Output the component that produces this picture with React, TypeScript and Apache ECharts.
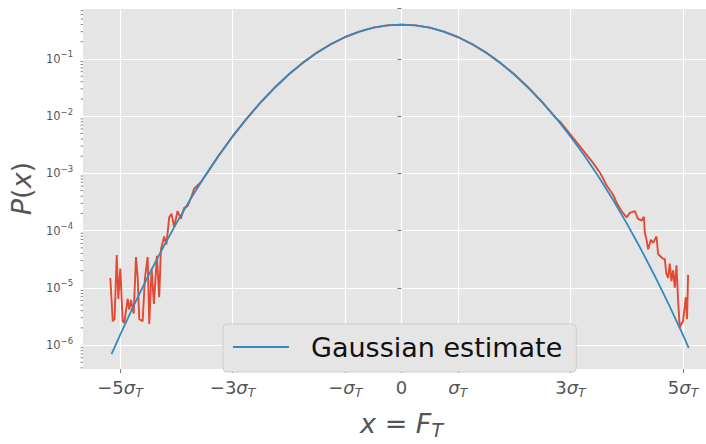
import React, { useEffect, useRef } from 'react';
import * as echarts from 'echarts';

// ---- axis ticks ----
const xTickValues = [-5, -3, -1, 0, 1, 3, 5];
const xTickCoefs = ['−5', '−3', '−', '0', '', '3', '5'];
const yMinorTickValues = [
  4e-7, 5e-7, 6e-7, 7e-7, 8e-7, 9e-7,
  2e-6, 3e-6, 4e-6, 5e-6, 6e-6, 7e-6, 8e-6, 9e-6,
  2e-5, 3e-5, 4e-5, 5e-5, 6e-5, 7e-5, 8e-5, 9e-5,
  2e-4, 3e-4, 4e-4, 5e-4, 6e-4, 7e-4, 8e-4, 9e-4,
  2e-3, 3e-3, 4e-3, 5e-3, 6e-3, 7e-3, 8e-3, 9e-3,
  2e-2, 3e-2, 4e-2, 5e-2, 6e-2, 7e-2, 8e-2, 9e-2,
  0.2, 0.3, 0.4, 0.5, 0.6, 0.7,
];

// ---- Gaussian estimate (x in units of sigma_T, P(x)) ----
const gaussX = [
  -5.15, -5, -4.75, -4.5, -4.25, -4, -3.75, -3.5, -3.25, -3, -2.75, -2.5, -2.25, -2, -1.75, -1.5, -1.25, -1, -0.75, -0.5, -0.25,
  0, 0.25, 0.5, 0.75, 1, 1.25, 1.5, 1.75, 2, 2.25, 2.5, 2.75, 3, 3.25, 3.5, 3.75, 4, 4.25, 4.5, 4.75, 5, 5.1,
];
const gaussP = [
  6.94e-7, 1.487e-6, 5.03e-6, 1.598e-5, 4.77e-5, 1.338e-4, 3.53e-4, 8.73e-4, 2.029e-3, 4.432e-3, 9.094e-3, 1.753e-2, 3.174e-2, 5.399e-2, 8.628e-2, 0.1295, 0.1826, 0.242, 0.3011, 0.3521, 0.3867,
  0.3989, 0.3867, 0.3521, 0.3011, 0.242, 0.1826, 0.1295, 8.628e-2, 5.399e-2, 3.174e-2, 1.753e-2, 9.094e-3, 4.432e-3, 2.029e-3, 8.73e-4, 3.53e-4, 1.338e-4, 4.77e-5, 1.598e-5, 5.03e-6, 1.487e-6, 8.96e-7,
];

// ---- measured distribution (x in sigma_T, log10 P(x)) ----
const dataX = [
  -5.172, -5.129, -5.097, -5.058, -5.03, -4.995, -4.952, -4.924, -4.864, -4.835, -4.805, -4.757, -4.716, -4.686, -4.658,
  -4.598, -4.557, -4.509, -4.481, -4.438, -4.398, -4.345, -4.304, -4.273, -4.215, -4.176, -4.126, -4.084, -4.038, -3.978,
  -3.919, -3.861, -3.8, -3.742, -3.683, -3.565, -3.506,
  -3.25, -3, -2.75, -2.5, -2.25, -2, -1.75, -1.5, -1.25, -1, -0.75, -0.5, -0.25, 0, 0.25, 0.5, 0.75, 1, 1.25, 1.5, 1.75, 2, 2.25, 2.5, 2.75,
  2.815, 3.111, 3.405, 3.524, 3.643, 3.76, 3.825, 3.908, 3.997, 4.055, 4.144, 4.197, 4.263, 4.304, 4.321, 4.351, 4.38, 4.428,
  4.468, 4.529, 4.557, 4.587, 4.646, 4.676, 4.702, 4.734, 4.764, 4.794, 4.823, 4.853, 4.883, 4.911, 4.929, 4.941, 4.968,
  5.0, 5.048, 5.071, 5.089,
];
const dataLogP = [
  -4.828, -5.582, -5.548, -4.427, -5.192, -4.661, -5.582, -5.61, -5.192, -5.381, -5.213, -5.448, -4.46, -4.828, -5.548,
  -5.582, -4.828, -4.46, -5.632, -4.661, -5.28, -4.438, -5.163, -4.326, -4.103, -4.242, -3.768, -3.707, -3.936, -3.657,
  -3.79, -3.601, -3.573, -3.434, -3.267, -3.154, -3.071,
  -2.693, -2.353, -2.041, -1.756, -1.498, -1.268, -1.064, -0.888, -0.739, -0.616, -0.521, -0.453, -0.413, -0.399, -0.413, -0.453, -0.521, -0.616, -0.739, -0.888, -1.064, -1.268, -1.498, -1.756, -2.041,
  -2.095, -2.456, -2.82, -2.987, -3.21, -3.377, -3.523, -3.657, -3.769, -3.69, -3.657, -3.79, -3.824, -3.757, -4.042, -4.159, -4.326, -4.159,
  -4.214, -4.103, -4.41, -4.438, -4.494, -4.494, -4.745, -4.828, -4.577, -4.884, -4.694, -4.995, -4.606, -5.213, -5.498, -5.694, -5.632,
  -5.582, -5.163, -5.548, -4.773,
];

const X_MIN = -5.656;
const X_MAX = 5.656;
const Y_MIN = 3.82e-7;
const Y_MAX = 0.778;

const FONT = 'DejaVu Sans';
const GREY = '#555555';

export default function App() {
  const ref = useRef<HTMLDivElement>(null);

  useEffect(() => {
    if (!ref.current) return;
    const chart = echarts.init(ref.current, null, { renderer: 'svg' });

    const option = {
      animation: false,
      backgroundColor: '#ffffff',
      textStyle: { fontFamily: FONT },
      grid: {
        left: 82,
        top: 8,
        right: 0,
        bottom: 59,
        show: true,
        backgroundColor: '#E5E5E5',
        borderWidth: 0,
      },
      legend: {
        show: true,
        data: [{ name: 'Gaussian estimate', icon: 'rect' }],
        left: 223,
        top: 324,
        orient: 'horizontal',
        padding: [8, 14, 10, 10],
        itemWidth: 56,
        itemHeight: 2,
        backgroundColor: '#E5E5E5',
        borderColor: '#cdcdcd',
        borderWidth: 1,
        borderRadius: 4,
        textStyle: {
          fontFamily: FONT,
          fontSize: 27,
          color: '#111111',
          lineHeight: 30,
          padding: [0, 0, 0, 17],
        },
      },
      xAxis: {
        type: 'value',
        min: X_MIN,
        max: X_MAX,
        axisLine: { show: false },
        axisTick: {
          show: true,
          customValues: xTickValues,
          length: 4,
          lineStyle: { color: GREY, width: 0.8 },
        },
        splitLine: { show: true, lineStyle: { color: '#ffffff', width: 1.2 } },
        axisLabel: {
          customValues: xTickValues,
          margin: 6,
          formatter: (v: number) => {
            const i = xTickValues.indexOf(Math.round(v));
            if (i < 0) return '';
            const c = xTickCoefs[i];
            if (c === '0') return '{n|0}';
            return (c ? '{n|' + c + '}' : '') + '{i|σ}{s|T}';
          },
          rich: {
            n: { fontFamily: FONT, fontSize: 18, color: GREY, lineHeight: 24 },
            i: { fontFamily: FONT, fontSize: 18, fontStyle: 'italic', color: GREY, lineHeight: 24 },
            s: { fontFamily: FONT, fontSize: 12.5, fontStyle: 'italic', color: GREY, lineHeight: 16, verticalAlign: 'bottom' },
          },
        },
        name: '{i|x}{n| = }{i|F}{s|T}',
        nameLocation: 'middle',
        nameGap: 38,
        nameTextStyle: {
          rich: {
            n: { fontFamily: FONT, fontSize: 27, color: GREY, lineHeight: 32 },
            i: { fontFamily: FONT, fontSize: 27, fontStyle: 'italic', color: GREY, lineHeight: 32 },
            s: { fontFamily: FONT, fontSize: 19, fontStyle: 'italic', color: GREY, lineHeight: 21, verticalAlign: 'bottom' },
          },
        },
      },
      yAxis: {
        type: 'log',
        logBase: 10,
        min: Y_MIN,
        max: Y_MAX,
        axisLine: { show: false },
        axisTick: { show: true, length: 4, lineStyle: { color: GREY, width: 0.8 } },
        splitLine: { show: true, lineStyle: { color: '#ffffff', width: 1.2 } },
        axisLabel: {
          margin: 10,
          formatter: (v: number) => {
            const l = Math.log10(v);
            const e = Math.round(l);
            if (Math.abs(l - e) > 0.01) return '';
            return '{b|10}{s|−' + String(-e) + '}';
          },
          rich: {
            b: { fontFamily: FONT, fontSize: 11.5, color: GREY, lineHeight: 18 },
            s: { fontFamily: FONT, fontSize: 8.5, color: GREY, lineHeight: 10, verticalAlign: 'top' },
          },
        },
        name: '{i|P}{n|(}{i|x}{n|)}',
        nameLocation: 'middle',
        nameGap: 40,
        nameRotate: 90,
        nameTextStyle: {
          rich: {
            n: { fontFamily: FONT, fontSize: 27, color: GREY, lineHeight: 32 },
            i: { fontFamily: FONT, fontSize: 27, fontStyle: 'italic', color: GREY, lineHeight: 32 },
          },
        },
      },
      series: [
        {
          name: 'data',
          type: 'line',
          data: dataX.map((x, i) => [x, Math.pow(10, dataLogP[i])]),
          showSymbol: false,
          symbol: 'none',
          lineStyle: { color: '#E24A33', width: 1.9 },
          itemStyle: { color: '#E24A33' },
          z: 2,
        },
        {
          name: 'Gaussian estimate',
          type: 'line',
          data: gaussX.map((x, i) => [x, gaussP[i]]),
          showSymbol: false,
          symbol: 'none',
          lineStyle: { color: '#348ABD', width: 1.8 },
          itemStyle: { color: '#348ABD' },
          z: 3,
        },
        {
          name: 'minor',
          type: 'custom',
          silent: true,
          clip: false,
          data: yMinorTickValues.map((v) => [X_MIN, v]),
          renderItem: (_params: any, api: any) => {
            const p = api.coord([api.value(0), api.value(1)]);
            return {
              type: 'line',
              shape: { x1: p[0] - 2.5, y1: p[1], x2: p[0], y2: p[1] },
              style: { stroke: GREY, lineWidth: 0.7 },
            };
          },
          z: 4,
        },
      ],
    };

    chart.setOption(option as any);
    return () => {
      chart.dispose();
    };
  }, []);

  return (
    <div
      ref={ref}
      style={{ position: 'fixed', left: 0, top: 0, width: 720, height: 444 }}
    />
  );
}
